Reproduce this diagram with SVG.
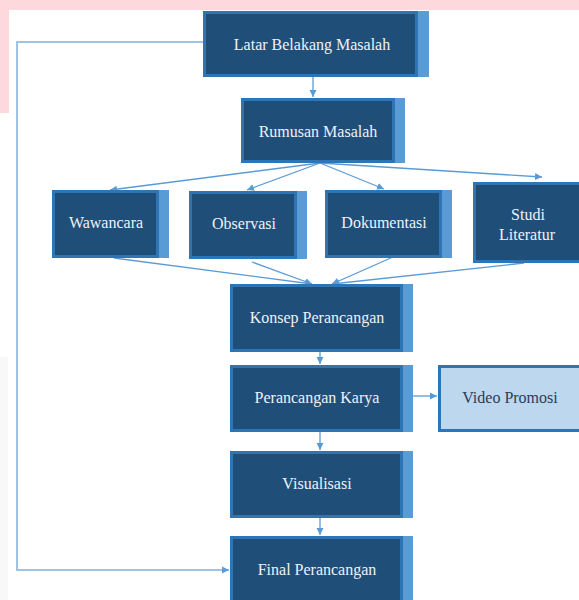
<svg xmlns="http://www.w3.org/2000/svg" width="579" height="600" viewBox="0 0 579 600">
<defs>
<style>
.sh{fill:#5b9bd5}
.bd{fill:#2e75b6}
.in{fill:#1f4e79}
.t{font-family:'Liberation Serif','DejaVu Serif',serif;font-size:16px;fill:#eef2f7;text-anchor:middle}
.c{fill:none;stroke:#5b9bd5;stroke-width:1.3}
.cl{fill:none;stroke:#9dc3e6;stroke-width:2}
</style>
<marker id="ah" markerWidth="8" markerHeight="8" refX="7" refY="4" orient="auto" markerUnits="userSpaceOnUse">
<path d="M0,0.5 L7,4 L0,7.5 z" fill="#5b9bd5"/>
</marker>
</defs>
<rect x="0" y="0" width="579" height="600" fill="#ffffff"/>
<rect x="0" y="0" width="579" height="10" fill="#fdd8dc"/>
<rect x="0" y="0" width="9" height="113" fill="#fdd8dc"/>
<rect x="0" y="357" width="8" height="243" fill="#f8f8f8"/>

<g id="connectors">
<path class="cl" d="M203,42 H17 V570 H229" marker-end="url(#ah)"/>
<path class="c" d="M313,77 V97" marker-end="url(#ah)"/>
<path class="c" d="M320,163 L110,190" marker-end="url(#ah)"/>
<path class="c" d="M320,163 L247,190" marker-end="url(#ah)"/>
<path class="c" d="M320,163 L384,189" marker-end="url(#ah)"/>
<path class="c" d="M320,163 L542,177" marker-end="url(#ah)"/>
<path class="c" d="M114,258 L312,284" marker-end="url(#ah)"/>
<path class="c" d="M252,262 L312,284" marker-end="url(#ah)"/>
<path class="c" d="M393,257 L332,284" marker-end="url(#ah)"/>
<path class="c" d="M524,263 L332,284" marker-end="url(#ah)"/>
<path class="c" d="M320,352 V364" marker-end="url(#ah)"/>
<path class="c" d="M413,396 H437" marker-end="url(#ah)"/>
<path class="c" d="M320,432 V450" marker-end="url(#ah)"/>
<path class="c" d="M320,518 V535" marker-end="url(#ah)"/>
</g>

<g id="latar">
<rect class="sh" x="418" y="11" width="11" height="66"/>
<rect class="bd" x="203" y="11" width="215" height="66"/>
<rect class="in" x="206" y="14" width="209" height="60"/>
<text class="t" x="312" y="50" font-family="Liberation Serif, serif">Latar Belakang Masalah</text>
</g>

<g id="rumusan">
<rect class="sh" x="395" y="98" width="10" height="65"/>
<rect class="bd" x="241" y="98" width="154" height="65"/>
<rect class="in" x="244" y="101" width="148" height="59"/>
<text class="t" x="318" y="137">Rumusan Masalah</text>
</g>

<g id="wawancara">
<rect class="sh" x="159" y="190" width="10" height="68"/>
<rect class="bd" x="52" y="190" width="107" height="68"/>
<rect class="in" x="55" y="193" width="101" height="62"/>
<text class="t" x="106" y="228">Wawancara</text>
</g>

<g id="observasi">
<rect class="sh" x="297" y="191" width="10" height="68"/>
<rect class="bd" x="189" y="191" width="108" height="68"/>
<rect class="in" x="192" y="194" width="102" height="62"/>
<text class="t" x="244" y="229">Observasi</text>
</g>

<g id="dokumentasi">
<rect class="sh" x="442" y="190" width="10" height="68"/>
<rect class="bd" x="325" y="190" width="117" height="68"/>
<rect class="in" x="328" y="193" width="111" height="62"/>
<text class="t" x="384" y="228">Dokumentasi</text>
</g>

<g id="studi">
<rect class="sh" x="584" y="182" width="10" height="81"/>
<rect class="bd" x="473" y="182" width="111" height="81"/>
<rect class="in" x="476" y="185" width="105" height="75"/>
<text class="t" x="528" y="220">Studi</text>
<text class="t" x="527" y="240">Literatur</text>
</g>

<g id="konsep">
<rect class="sh" x="403" y="284" width="10" height="68"/>
<rect class="bd" x="230" y="284" width="173" height="68"/>
<rect class="in" x="233" y="287" width="167" height="62"/>
<text class="t" x="317" y="323">Konsep Perancangan</text>
</g>

<g id="perancangan-karya">
<rect class="sh" x="403" y="365" width="10" height="67"/>
<rect class="bd" x="230" y="365" width="173" height="67"/>
<rect class="in" x="233" y="368" width="167" height="61"/>
<text class="t" x="317" y="403">Perancangan Karya</text>
</g>

<g id="video-promosi">
<rect x="439.5" y="366.5" width="141" height="64" fill="#bdd7ee" stroke="#2e75b6" stroke-width="3"/>
<text class="t" x="510" y="403" style="fill:#2b3b57">Video Promosi</text>
</g>

<g id="visualisasi">
<rect class="sh" x="403" y="451" width="10" height="67"/>
<rect class="bd" x="230" y="451" width="173" height="67"/>
<rect class="in" x="233" y="454" width="167" height="61"/>
<text class="t" x="317" y="489">Visualisasi</text>
</g>

<g id="final">
<rect class="sh" x="403" y="536" width="10" height="80"/>
<rect class="bd" x="230" y="536" width="173" height="80"/>
<rect class="in" x="233" y="539" width="167" height="74"/>
<text class="t" x="317" y="575">Final Perancangan</text>
</g>
</svg>
